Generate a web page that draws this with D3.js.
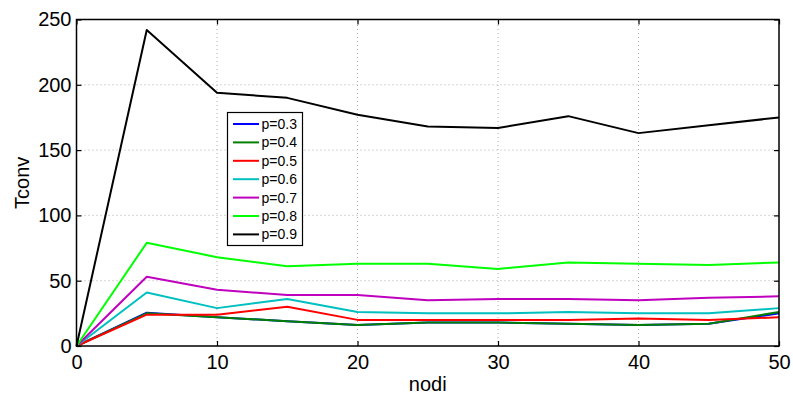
<!DOCTYPE html>
<html>
<head>
<meta charset="utf-8">
<script src="https://cdn.jsdelivr.net/npm/d3@7"></script>
<style>
  html, body { margin: 0; padding: 0; background: #fff; }
  svg { display: block; font-family: "Liberation Sans", Arial, sans-serif; }
</style>
</head>
<body>
<svg id="chart" width="793" height="394"></svg>
<script>
// Number of nodes (x axis)
const nodi = [0, 5, 10, 15, 20, 25, 30, 35, 40, 45, 50];

// Convergence time for each probability p
const p03 = [0, 25.5, 22, 19, 16, 18, 18, 17, 16, 17, 25];
const p04 = [0, 25, 22, 19, 16, 18, 18, 17, 16, 17, 26];
const p05 = [0, 24, 24, 30, 20, 20, 20, 20, 21, 20, 22];
const p06 = [0, 41, 29, 36, 26, 25, 25, 26, 25, 25, 29];
const p07 = [0, 53, 43, 39, 39, 35, 36, 36, 35, 37, 38];
const p08 = [0, 79, 68, 61, 63, 63, 59, 64, 63, 62, 64];
const p09 = [0, 242, 194, 190, 177, 168, 167, 176, 163, 169, 175];

const seriesNames = ["p=0.3", "p=0.4", "p=0.5", "p=0.6", "p=0.7", "p=0.8", "p=0.9"];
const seriesValues = [p03, p04, p05, p06, p07, p08, p09];
const seriesColors = ["#0000ff", "#007f00", "#ff0000", "#00bfbf", "#bf00bf", "#00ff00", "#000000"];

const xTicks = [0, 10, 20, 30, 40, 50];
const yTicks = [0, 50, 100, 150, 200, 250];

const svg = d3.select("#chart");
const margin = { left: 76.5, right: 14, top: 19.5, bottom: 48 };
const W = 793, H = 394;
const x0 = margin.left, x1 = W - margin.right;
const y0 = H - margin.bottom, y1 = margin.top;

const x = d3.scaleLinear().domain([0, 50]).range([x0, x1]);
const y = d3.scaleLinear().domain([0, 250]).range([y0, y1]);

// Dotted grid
const grid = svg.append("g");
grid.selectAll("line.gx").data(xTicks.slice(1, -1)).join("line")
  .attr("x1", d => x(d)).attr("x2", d => x(d))
  .attr("y1", y0).attr("y2", y1)
  .attr("stroke", "#b0b0b0").attr("stroke-width", 1).attr("stroke-dasharray", "1,3");
grid.selectAll("line.gy").data(yTicks.slice(1, -1)).join("line")
  .attr("x1", x0).attr("x2", x1)
  .attr("y1", d => y(d)).attr("y2", d => y(d))
  .attr("stroke", "#b0b0b0").attr("stroke-width", 1).attr("stroke-dasharray", "1,3");

// Series lines
const line = d3.line().x((d, i) => x(nodi[i])).y(d => y(d));
svg.append("g").selectAll("path").data(seriesValues).join("path")
  .attr("d", d => line(d))
  .attr("fill", "none")
  .attr("stroke", (d, i) => seriesColors[i])
  .attr("stroke-width", 2)
  .attr("stroke-linejoin", "round");

// Axes with inward ticks on all sides
const fs = 20;
const bottomAxis = d3.axisBottom(x).tickValues(xTicks).tickSize(-5).tickPadding(9).tickFormat(d3.format("d"));
const leftAxis = d3.axisLeft(y).tickValues(yTicks).tickSize(-5).tickPadding(5).tickFormat(d3.format("d"));
const topAxis = d3.axisTop(x).tickValues(xTicks).tickSize(-5).tickFormat("");
const rightAxis = d3.axisRight(y).tickValues(yTicks).tickSize(-5).tickFormat("");

function style(g) {
  g.select(".domain").remove();
  g.selectAll(".tick line").attr("stroke", "#000").attr("stroke-width", 1.2);
  g.selectAll(".tick text").attr("fill", "#000").style("font-size", fs + "px");
}
svg.append("g").attr("transform", `translate(0,${y0})`).call(bottomAxis).call(style)
  .selectAll(".tick text").attr("dy", "0.71em");
svg.append("g").attr("transform", `translate(${x0},0)`).call(leftAxis).call(style);
svg.append("g").attr("transform", `translate(0,${y1})`).call(topAxis).call(style);
svg.append("g").attr("transform", `translate(${x1},0)`).call(rightAxis).call(style);

// Box
svg.append("rect")
  .attr("x", x0).attr("y", y1).attr("width", x1 - x0).attr("height", y0 - y1)
  .attr("fill", "none").attr("stroke", "#000").attr("stroke-width", 1.5);

// Axis titles
svg.append("text").attr("x", (x0 + x1) / 2).attr("y", 391)
  .attr("text-anchor", "middle").style("font-size", fs + "px").text("nodi");
svg.append("text")
  .attr("transform", `translate(29,${(y0 + y1) / 2}) rotate(-90)`)
  .attr("text-anchor", "middle").style("font-size", fs + "px").text("Tconv");

// Legend
const lg = svg.append("g");
const lx = 227.5, ly = 112.5, lw = 75, lh = 133;
lg.append("rect").attr("x", lx).attr("y", ly).attr("width", lw).attr("height", lh)
  .attr("fill", "#fff").attr("stroke", "#000").attr("stroke-width", 1.2);
const items = lg.selectAll("g.item").data(seriesNames).join("g")
  .attr("transform", (d, i) => `translate(0,${124 + i * 18.4})`);
items.append("line").attr("x1", 233).attr("x2", 259).attr("y1", 0).attr("y2", 0)
  .attr("stroke", (d, i) => seriesColors[i]).attr("stroke-width", 2);
items.append("text").attr("x", 261.5).attr("y", 0).attr("dy", "0.36em")
  .style("font-size", "14px").text(d => d);
</script>
</body>
</html>
